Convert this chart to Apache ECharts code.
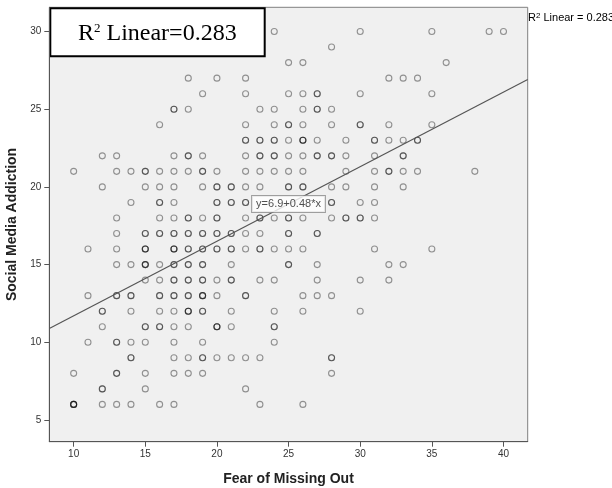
<!DOCTYPE html>
<html>
<head>
<meta charset="utf-8">
<script src="https://cdn.jsdelivr.net/npm/echarts@6/dist/echarts.min.js"></script>
<style>
  html, body { margin: 0; padding: 0; background: #fff; }
  #chart { width: 612px; height: 488px; }
</style>
</head>
<body>
<div id="chart"></div>
<script>
// Social Media Addiction score levels (y) and the Fear of Missing Out scores (x) observed at each level.
// Repeated x values are overlapping observations (drawn darker).
const smaLevels = [30,29,28,27,26,25,24,23,22,21,20,19,18,17,16,15,14,13,12,11,10,9,8,7,6];
const fomoByLevel = [
  [24,30,35,39,40],
  [28],
  [25,26,36],
  [18,20,22,32,33,34],
  [19,22,25,26,27,27,30,35],
  [17,17,18,23,24,26,27,27,28],
  [16,22,24,25,25,26,28,30,30,32,35],
  [22,22,23,23,24,24,25,26,26,26,27,29,31,31,32,33,34,34],
  [12,13,17,18,18,19,22,23,23,24,24,25,26,27,27,28,28,29,31,33,33],
  [10,13,14,15,15,16,17,18,19,19,20,22,23,24,25,26,29,31,32,32,33,34,38],
  [12,15,16,17,19,20,20,21,21,22,23,25,25,26,26,28,29,31,33],
  [14,16,16,17,20,20,21,21,22,22,28,28,30,31],
  [13,16,17,18,18,19,20,20,22,23,23,24,25,25,26,28,29,29,30,30,31],
  [13,15,15,16,16,17,17,18,18,19,19,20,20,21,21,22,23,25,25,27,27],
  [11,13,15,15,15,17,17,17,18,18,19,19,20,20,21,21,22,23,23,24,25,26,31,35],
  [13,14,15,15,15,16,17,17,18,18,19,19,21,25,25,27,32,33],
  [15,16,17,17,18,18,19,19,20,21,21,23,24,27,30,32],
  [11,13,13,14,14,16,16,17,17,18,18,19,19,19,20,22,22,26,27,28],
  [12,12,14,16,17,18,18,18,19,19,21,24,26,30],
  [12,15,15,16,16,17,18,20,20,20,21,24,24],
  [11,13,13,14,15,17,19,24],
  [14,14,17,18,19,19,20,21,22,23,28,28],
  [10,13,13,15,17,18,19,28],
  [12,12,15,22],
  [10,10,10,10,12,13,14,16,17,23,26]
];
const xTicks = [10,15,20,25,30,35,40];
const yTicks = [5,10,15,20,25,30];
const xRange = [8.3, 41.69];
const yRange = [3.6, 31.56];
const fitIntercept = 6.9;
const fitSlope = 0.48;
const fitLabel = 'y=6.9+0.48*x';
const r2Text = '0.283';

const points = [];
smaLevels.forEach((y, i) => fomoByLevel[i].forEach(x => points.push([x, y])));
const fit = v => fitIntercept + fitSlope * v;
const midX = (xRange[0] + xRange[1]) / 2;

const chart = echarts.init(document.getElementById('chart'), null, { renderer: 'canvas' });
const sans = '"Liberation Sans", Arial, sans-serif';
const serif = '"Liberation Serif", "Times New Roman", serif';

chart.setOption({
  animation: false,
  backgroundColor: '#fff',
  grid: {
    left: 49.3, right: 84.3, top: 7.3, bottom: 46.3,
    containLabel: false, outerBoundsMode: 'none',
    show: true, backgroundColor: '#f0f0f0', borderColor: '#808080', borderWidth: 1
  },
  xAxis: {
    type: 'value', min: xRange[0], max: xRange[1],
    name: 'Fear of Missing Out', nameLocation: 'middle', nameGap: 30,
    nameTextStyle: { fontFamily: sans, fontWeight: 'bold', fontSize: 14, color: '#222' },
    axisLine: { show: true, onZero: false, lineStyle: { color: '#555', width: 1 } },
    axisTick: { show: true, length: 5, customValues: xTicks, lineStyle: { color: '#555' } },
    axisLabel: { customValues: xTicks, fontFamily: sans, fontSize: 10, color: '#333', margin: 8 },
    splitLine: { show: false }
  },
  yAxis: {
    type: 'value', min: yRange[0], max: yRange[1],
    name: 'Social Media Addiction', nameLocation: 'middle', nameGap: 28,
    nameTextStyle: { fontFamily: sans, fontWeight: 'bold', fontSize: 14, color: '#222' },
    axisLine: { show: true, onZero: false, lineStyle: { color: '#555', width: 1 } },
    axisTick: { show: true, length: 5, customValues: yTicks, lineStyle: { color: '#555' } },
    axisLabel: { customValues: yTicks, fontFamily: sans, fontSize: 10, color: '#333', margin: 8 },
    splitLine: { show: false }
  },
  series: [
    {
      type: 'scatter', data: points, symbol: 'circle', symbolSize: 6,
      itemStyle: { color: 'rgba(0,0,0,0)', borderColor: 'rgba(0,0,0,0.5)', borderWidth: 1.1 },
      emphasis: { disabled: true }, silent: true
    },
    {
      type: 'line', data: [[xRange[0], fit(xRange[0])], [xRange[1], fit(xRange[1])]],
      symbol: 'none', lineStyle: { color: '#555', width: 1.2 }, silent: true, z: 3
    },
    {
      type: 'scatter', data: [[midX, fit(midX)]], symbolSize: 0, z: 4, silent: true,
      label: {
        show: true, position: 'inside', formatter: fitLabel,
        fontFamily: sans, fontSize: 11, color: '#222',
        backgroundColor: '#fff', borderColor: '#8a8a8a', borderWidth: 1, padding: [3, 4, 2, 4]
      }
    }
  ],
  graphic: [
    {
      type: 'group', left: 49.3, top: 7.3, z: 100,
      children: [
        { type: 'rect', shape: { x: 1, y: 1, width: 214.4, height: 48 },
          style: { fill: '#fff', stroke: '#000', lineWidth: 2 } },
        { type: 'text', x: 108, y: 26,
          style: {
            text: '{m|R}{s|2}{m| Linear=' + r2Text + '}',
            align: 'center', verticalAlign: 'middle',
            rich: {
              m: { fontFamily: serif, fontSize: 24, lineHeight: 28, fill: '#000' },
              s: { fontFamily: serif, fontSize: 13, lineHeight: 14, verticalAlign: 'top', padding: [3, 0, 0, 0], fill: '#000' }
            }
          } }
      ]
    },
    {
      type: 'text', x: 528, y: 18.3, z: 100,
      style: {
        text: '{m|R}{s|2}{m| Linear = ' + r2Text + '}',
        align: 'left', verticalAlign: 'middle',
        rich: {
          m: { fontFamily: sans, fontSize: 11, lineHeight: 13, fill: '#000' },
          s: { fontFamily: sans, fontSize: 8, lineHeight: 8, verticalAlign: 'top', fill: '#000' }
        }
      }
    }
  ]
});
</script>
</body>
</html>
